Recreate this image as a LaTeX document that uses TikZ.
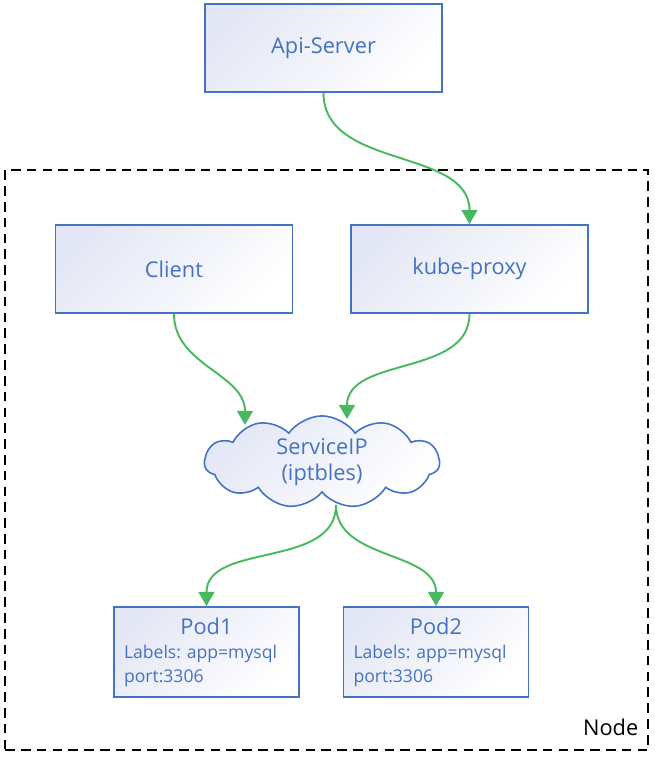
\documentclass[tikz,border=0pt]{standalone}
\usepackage{fontspec}
\setmainfont{Open Sans}
\frenchspacing
\usetikzlibrary{positioning,arrows.meta,calc,shapes.symbols}
\definecolor{EdgeBlue}{RGB}{68,114,196}
\definecolor{TextBlue}{RGB}{68,114,196}
\definecolor{FlowGreen}{RGB}{72,185,96}
\definecolor{PaleLilac}{RGB}{228,231,245}

\begin{document}
\begin{tikzpicture}[x=0.02cm, y=-0.02cm, font=\fontsize{12.4}{15}\selectfont, every node/.style={align=center}]
\tikzset{
  comp/.style={draw=EdgeBlue, line width=1.1pt, left color=PaleLilac, right color=white, shading angle=45, text=TextBlue, minimum width=4.74cm, minimum height=1.76cm},
  pod/.style={draw=EdgeBlue, line width=1.1pt, left color=PaleLilac, right color=white, shading angle=45, text=TextBlue, align=left, text width=3.3cm, inner xsep=0.2cm, minimum height=1.8cm, font=\fontsize{10}{13.6}\selectfont},
  svc/.style={cloud, cloud puffs=11, cloud puff arc=110, aspect=2.8, draw=EdgeBlue, line width=0.9pt, left color=PaleLilac, right color=white, shading angle=45, text=TextBlue, minimum width=4.7cm, minimum height=1.65cm, inner sep=0pt},
  flow/.style={-{Triangle[length=8pt,width=9pt]}, line width=1.1pt, FlowGreen},
  frame/.style={draw, dash pattern=on 5.5pt off 3.5pt, line width=0.8pt, minimum width=12.86cm, minimum height=11.6cm}
}
  \useasboundingbox (0,0) rectangle (654,757);

  % node boundary
  \node[frame] (nodebox) at (326.5,460) {};
  \node[anchor=south east, inner sep=0pt] (nodetag) at ($(nodebox.south east)+(-10,-15)$) {Node};

  \node[comp] (api) at (323.5,48) {Api-Server};
  \node[comp] (client) at (174,269) {Client};
  \node[comp] (proxy) at (469.5,269) {kube-proxy};

  \node[svc] (svc) at (322,462) {ServiceIP\\(iptbles)};

  \node[pod] (pod1) at (206.5,652) {\mbox{}\hfill{\fontsize{12.4}{15}\selectfont Pod1}\hfill\mbox{}\\Labels: app=mysql\\port:3306};
  \node[pod] (pod2) at (436,652) {\mbox{}\hfill{\fontsize{12.4}{15}\selectfont Pod2}\hfill\mbox{}\\Labels: app=mysql\\port:3306};

  \coordinate (svcin1) at ($(svc.center)+(-77,-37)$);
  \coordinate (svcin2) at ($(svc.center)+(25,-43)$);
  \coordinate (svcout) at ($(svc.center)+(14,43)$);

  \draw[flow] (api.south) to[out=-90,in=90] (proxy.north);
  \draw[flow] (client.south) to[out=-90,in=90] (svcin1);
  \draw[flow] (proxy.south) to[out=-90,in=90] (svcin2);
  \draw[flow] (svcout) to[out=-90,in=90] (pod1.north);
  \draw[flow] (svcout) to[out=-90,in=90] (pod2.north);
\end{tikzpicture}
\end{document}
